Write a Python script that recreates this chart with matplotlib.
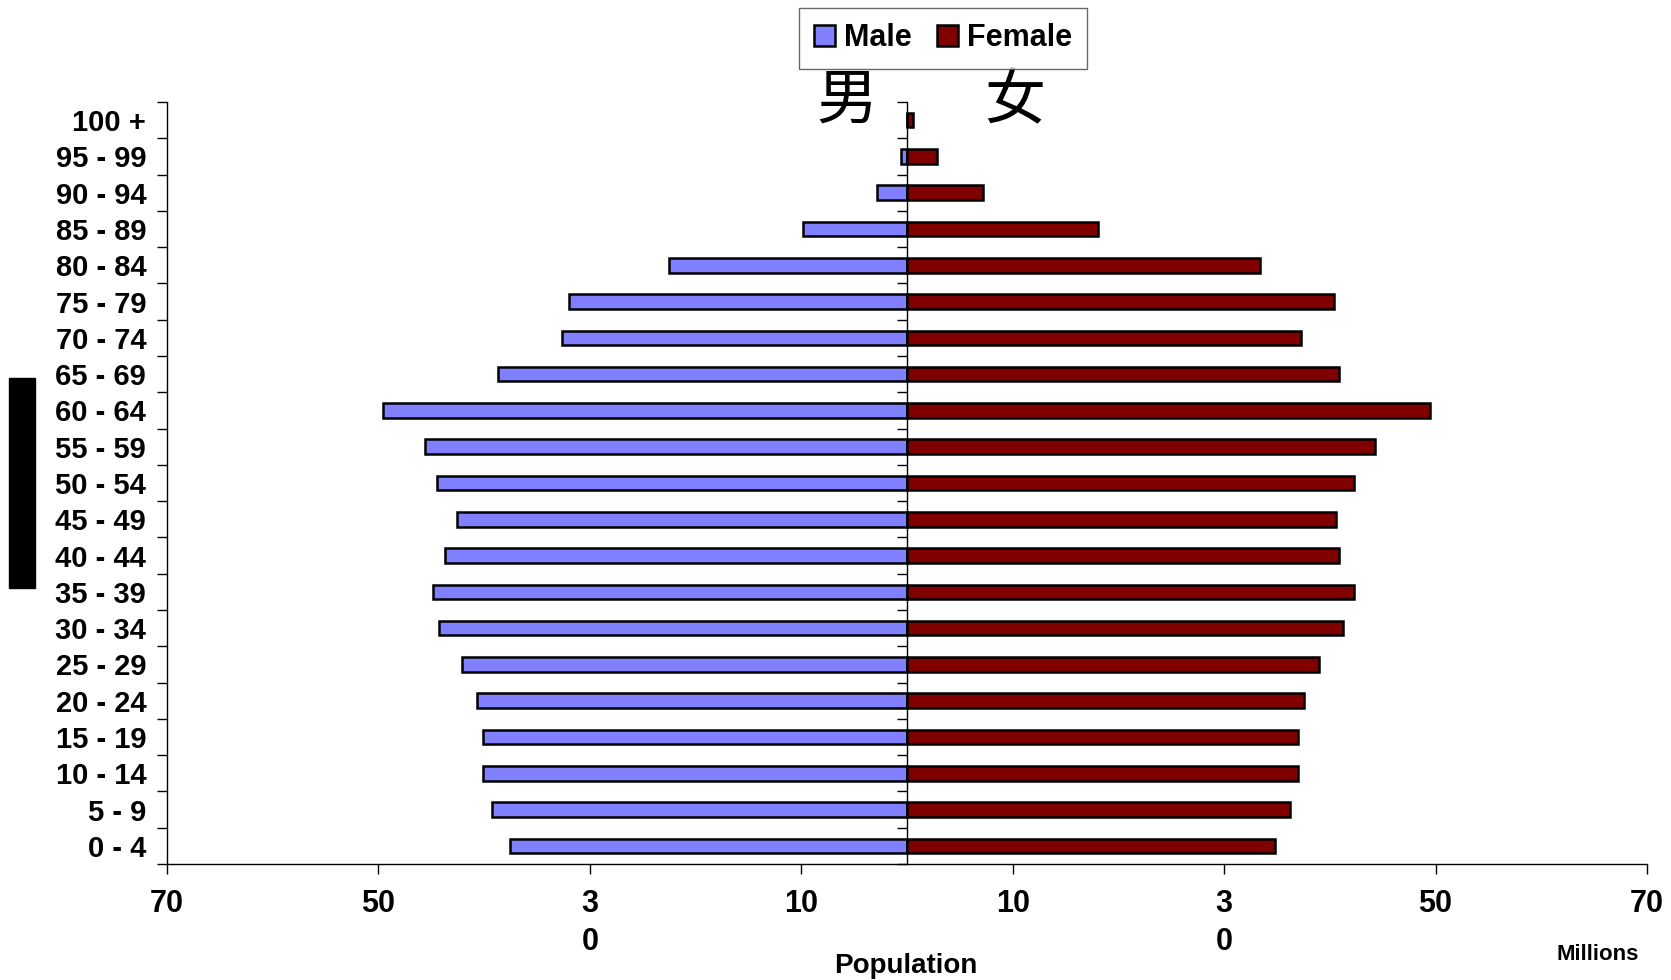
import numpy as np
import matplotlib
matplotlib.use('Agg')
import matplotlib.pyplot as plt
from matplotlib.patches import Rectangle

plt.rcParams['font.family'] = ['Liberation Sans', 'DejaVu Sans']
plt.rcParams['font.weight'] = 'bold'

age_groups = ['0 - 4', '5 - 9', '10 - 14', '15 - 19', '20 - 24', '25 - 29', '30 - 34',
              '35 - 39', '40 - 44', '45 - 49', '50 - 54', '55 - 59', '60 - 64', '65 - 69',
              '70 - 74', '75 - 79', '80 - 84', '85 - 89', '90 - 94', '95 - 99', '100 +']
# millions
male = [37.6, 39.3, 40.1, 40.1, 40.7, 42.1, 44.3, 44.8, 43.7, 42.6, 44.5,
        45.6, 49.6, 38.7, 32.6, 32.0, 22.5, 9.8, 2.8, 0.6, 0.0]
female = [34.8, 36.2, 37.0, 37.0, 37.6, 39.0, 41.2, 42.3, 40.9, 40.6, 42.3,
          44.3, 49.5, 40.9, 37.3, 40.4, 33.4, 18.1, 7.2, 2.8, 0.6]
xtick_vals = [-70, -50, -30, -10, 10, 30, 50, 70]
xtick_text = ['70', '50', '3\n0', '10', '10', '3\n0', '50', '70']

W, H = 1671, 980
fig = plt.figure(figsize=(W / 100, H / 100), dpi=100)
pos = [167 / W, 1 - 864 / H, (1647 - 167) / W, (864 - 102) / H]
ax = fig.add_axes(pos)

y = np.arange(len(age_groups))
ax.barh(y, -np.array(male), height=0.4, color='#8080FF', edgecolor='black', linewidth=1.8, label='Male', zorder=3)
ax.barh(y, female, height=0.4, color='#800000', edgecolor='black', linewidth=1.8, label='Female', zorder=3)

ax.set_xlim(-70, 70)
ax.set_ylim(-0.5, len(age_groups) - 0.5)
ax.spines['top'].set_visible(False)
ax.spines['right'].set_visible(False)
for s in ('left', 'bottom'):
    ax.spines[s].set_linewidth(1.0)

ax.set_yticks(y)
ax.set_yticklabels(age_groups, fontsize=21)
ax.set_yticks(np.arange(-0.5, len(age_groups)), minor=True)
ax.tick_params(axis='y', which='major', length=0, pad=15)
ax.tick_params(axis='y', which='minor', length=7, width=1.0, direction='out')

ax.set_xticks(xtick_vals)
ax.set_xticklabels(xtick_text, fontsize=22, linespacing=1.35)
ax.tick_params(axis='x', which='major', length=7, width=1.0, direction='out', pad=11)

# centre line with its own boundary ticks
ax2 = fig.add_axes(pos)
ax2.set_xlim(-70, 70)
ax2.set_ylim(-0.5, len(age_groups) - 0.5)
ax2.patch.set_visible(False)
for s in ('top', 'right', 'bottom'):
    ax2.spines[s].set_visible(False)
ax2.spines['left'].set_position(('data', 0))
ax2.spines['left'].set_linewidth(1.0)
ax2.set_xticks([])
ax2.set_yticks([])
ax2.set_yticks(np.arange(-0.5, len(age_groups)), minor=True)
ax2.tick_params(axis='y', which='minor', length=7, width=1.0, direction='out')

leg = fig.legend(loc='upper center', bbox_to_anchor=(943 / W, 1 - 8 / H), ncol=2,
                 fontsize=22, frameon=True, fancybox=False, edgecolor='#444444',
                 handlelength=0.7, handleheight=0.7, handletextpad=0.3, columnspacing=0.8,
                 borderpad=0.5, borderaxespad=0)
leg.get_frame().set_linewidth(1.0)

cjk = ['Noto Sans CJK SC', 'DejaVu Sans']
fig.text(847 / W, 1 - 101 / H, '男', family=cjk, fontsize=44, weight='light', ha='center', va='center')
fig.text(1015 / W, 1 - 101 / H, '女', family=cjk, fontsize=44, weight='light', ha='center', va='center')

fig.text(906 / W, 1 - 966 / H, 'Population', fontsize=20, ha='center', va='center')
fig.text(1598 / W, 1 - 954 / H, 'Millions', fontsize=16, ha='center', va='center')

fig.patches.append(Rectangle((8.5 / W, 1 - 588 / H), 26.5 / W, 210 / H,
                             transform=fig.transFigure, color='black'))

plt.savefig('out.png', dpi=100)
